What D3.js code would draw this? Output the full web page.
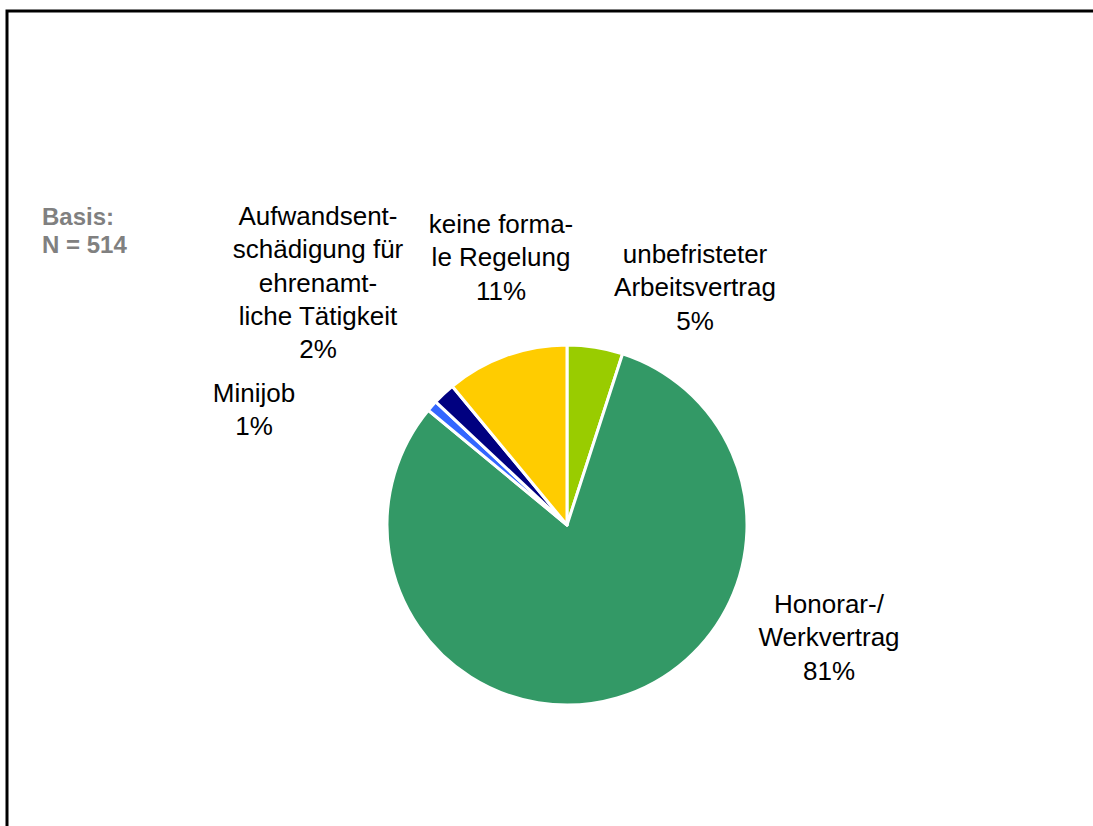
<!DOCTYPE html>
<html>
<head>
<meta charset="utf-8">
<script src="https://cdn.jsdelivr.net/npm/d3@7/dist/d3.min.js"></script>
<style>
  html, body { margin: 0; padding: 0; background: #fff; overflow: hidden; }
  svg { display: block; }
  text { font-family: "Liberation Sans", Arial, sans-serif; }
</style>
</head>
<body>
<svg id="chart" width="1093" height="826"></svg>
<script>
// Contract types (share of respondents, %), clockwise from 12 o'clock
const categories = [
  "unbefristeter Arbeitsvertrag",
  "Honorar-/Werkvertrag",
  "Minijob",
  "Aufwandsentschädigung für ehrenamtliche Tätigkeit",
  "keine formale Regelung"
];
const values = [5, 81, 1, 2, 11];
const labelLines = [
  ["unbefristeter", "Arbeitsvertrag"],
  ["Honorar-/", "Werkvertrag"],
  ["Minijob"],
  ["Aufwandsent-", "schädigung für", "ehrenamt-", "liche Tätigkeit"],
  ["keine forma-", "le Regelung"]
];
const colors = ["#99cc00", "#339966", "#3366ff", "#000080", "#ffcc00"];
const baseNote = ["Basis:", "N = 514"];

// Label anchor (centre x, first baseline y) for each slice
const labelAnchor = [
  [695, 263],
  [829, 613],
  [254, 402],
  [318, 225],
  [501, 233]
];

const svg = d3.select("#chart");

// Outer frame: only the top and left edges fall inside the page
svg.append("path")
  .attr("d", "M7,826 L7,11 L1093,11")
  .attr("fill", "none").attr("stroke", "#000").attr("stroke-width", 3);

const cx = 567, cy = 525, r = 180;
const g = svg.append("g").attr("transform", `translate(${cx},${cy})`);

const pie = d3.pie().sort(null).value(d => d.value);
const arc = d3.arc().innerRadius(0).outerRadius(r);
const data = categories.map((c, i) => ({ name: c, value: values[i], i }));

g.selectAll("path")
  .data(pie(data))
  .join("path")
  .attr("d", arc)
  .attr("fill", d => colors[d.data.i])
  .attr("stroke", "#fff")
  .attr("stroke-width", 3)
  .attr("stroke-linejoin", "round");

// Slice labels
const lineH = 33.3;
const fmt = d => d3.format("d")(d) + "%";
data.forEach((d, i) => {
  const lines = labelLines[i].concat([fmt(d.value)]);
  const t = svg.append("text")
    .attr("x", labelAnchor[i][0])
    .attr("y", labelAnchor[i][1])
    .attr("text-anchor", "middle")
    .attr("font-size", 26)
    .attr("fill", "#000");
  lines.forEach((l, k) => {
    t.append("tspan")
      .attr("x", labelAnchor[i][0])
      .attr("dy", k === 0 ? 0 : lineH)
      .text(l);
  });
});

// Sample size note
const note = svg.append("text")
  .attr("x", 42).attr("y", 225)
  .attr("font-size", 24).attr("font-weight", "bold")
  .attr("fill", "#808080");
baseNote.forEach((l, k) => {
  note.append("tspan").attr("x", 42).attr("dy", k === 0 ? 0 : 28).text(l);
});
</script>
</body>
</html>
